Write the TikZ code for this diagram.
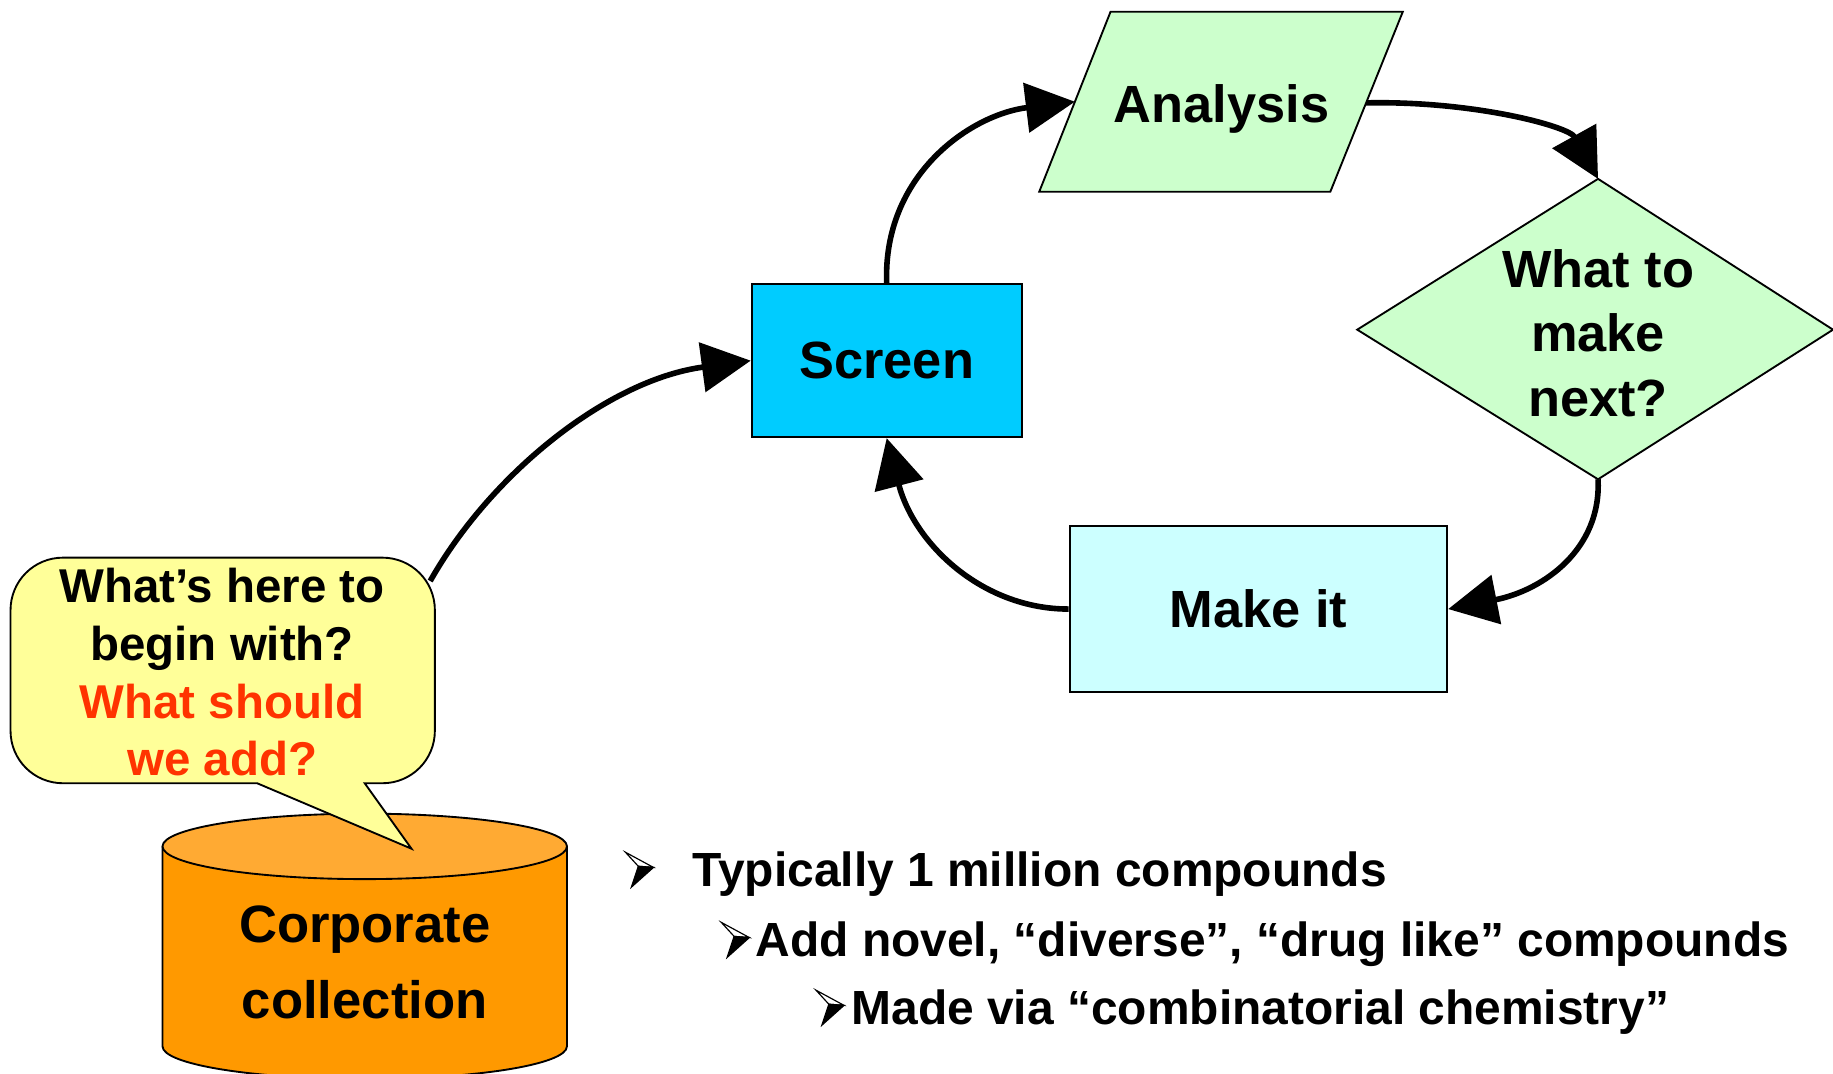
\documentclass[tikz,border=0pt]{standalone}
\usepackage{fontspec}
\setmainfont{Liberation Sans}
\usetikzlibrary{arrows.meta}

\definecolor{paleGreen}{HTML}{CCFFCC}
\definecolor{skyBlue}{HTML}{00CCFF}
\definecolor{paleCyan}{HTML}{CCFFFF}
\definecolor{noteYellow}{HTML}{FFFF99}
\definecolor{warnRed}{HTML}{FF3300}
\definecolor{drumBody}{HTML}{FF9900}
\definecolor{drumTop}{HTML}{FFAA33}

\begin{document}
\begin{tikzpicture}[x=0.5pt,y=-0.5pt,
  outline/.style={draw=black,line width=0.8pt},
  flow/.style={line width=2.4pt,-{Triangle[length=21pt,width=21pt]}},
  bigtext/.style={font=\fontsize{22.4}{27.5}\selectfont\bfseries,align=center,inner sep=0pt},
  boxnode/.style={outline,rectangle,font=\fontsize{22.4}{27.5}\selectfont\bfseries,inner sep=0pt},
  notetext/.style={font=\fontsize{20.3}{24.7}\selectfont\bfseries,align=center,inner sep=0pt},
  drumtext/.style={font=\fontsize{22.5}{32.5}\selectfont\bfseries,align=center,inner sep=0pt},
  itemtext/.style={font=\fontsize{20.5}{24}\selectfont\bfseries,anchor=base west,inner sep=0pt},
  bulletarrow/.pic={
    \filldraw[fill=white,draw=black,line width=0.5pt,line join=miter] (0,0) -- (24,13) -- (11,12) -- cycle;
    \filldraw[fill=black,draw=black,line width=0.5pt,line join=miter] (11,12) -- (24,13) -- (5,30) -- cycle;
  }]
\useasboundingbox (0,0) rectangle (1568,918);
\clip (0,0) rectangle (1568,918);

% ---- corporate collection drum ----
\fill[drumBody] (139,724) -- (139,895) .. controls (139,910.5) and (216.5,923) .. (312,923)
  .. controls (407.5,923) and (485,910.5) .. (485,895) -- (485,724) -- cycle;
\draw[outline] (139,724) -- (139,895) .. controls (139,910.5) and (216.5,923) .. (312,923)
  .. controls (407.5,923) and (485,910.5) .. (485,895) -- (485,724);
\filldraw[outline,fill=drumTop] (312,724) ellipse [x radius=86.5pt,y radius=14pt];
\node[drumtext] (drum) at (312,823.5) {Corporate\\collection};

% ---- speech bubble ----
\filldraw[outline,fill=noteYellow,line join=miter]
  (54,477) -- (327,477) .. controls (352,477) and (372,497) .. (372,522)
  -- (372,625) .. controls (372,650) and (352,670) .. (327,670)
  -- (312,670) -- (352,726) -- (220,670)
  -- (54,670) .. controls (29,670) and (9,650) .. (9,625)
  -- (9,522) .. controls (9,497) and (29,477) .. (54,477) -- cycle;
\node[notetext] (question) at (190,575)
  {What’s here to\\begin with?\\\textcolor{warnRed}{What should}\\\textcolor{warnRed}{we add?}};
\coordinate (bubble-out) at (368,497);

% ---- screen ----
\node[boxnode,fill=skyBlue,minimum width=115.5pt,minimum height=65.5pt] (screen) at (758.5,308.5) {Screen};

% ---- analysis ----
\filldraw[outline,fill=paleGreen] (950,10) -- (1200,10) -- (1138,164) -- (889,164) -- cycle;
\node[bigtext,anchor=base] (analysis) at (1045,105) {Analysis};
\coordinate (analysis-in) at (919.5,87);
\coordinate (analysis-out) at (1168.6,88);

% ---- decision ----
\filldraw[outline,fill=paleGreen] (1367,153) -- (1568,282) -- (1367,410) -- (1161,282) -- cycle;
\node[bigtext] (decide) at (1367,285) {What to\\make\\next?};
\coordinate (decide-top) at (1367,153);
\coordinate (decide-bottom) at (1367,410);

% ---- make it ----
\node[boxnode,fill=paleCyan,minimum width=161.5pt,minimum height=71pt] (makeit) at (1076.5,521) {Make it};

% ---- cycle connectors ----
\draw[flow] (bubble-out) .. controls (420,405) and (520,325) .. (screen.west);
\draw[flow] (screen.north) .. controls (755,150) and (830,98) .. (analysis-in);
\draw[flow] (analysis-out) .. controls (1260,86) and (1342,108) .. (decide-top);
\draw[flow] (decide-bottom) .. controls (1370,470) and (1320,505) .. (makeit.east);
\draw[flow] (makeit.west) .. controls (840,521) and (782,465) .. (screen.south);

% ---- bullet list ----
\pic at (535,729) {bulletarrow};
\node[itemtext] (item1) at (592,758.7) {Typically 1 million compounds};
\pic at (617,789) {bulletarrow};
\node[itemtext] (item2) at (646,818.5) {Add novel, “diverse”, “drug like” compounds};
\pic at (698,847) {bulletarrow};
\node[itemtext] (item3) at (728,876.7) {Made via “combinatorial chemistry”};
\end{tikzpicture}
\end{document}
